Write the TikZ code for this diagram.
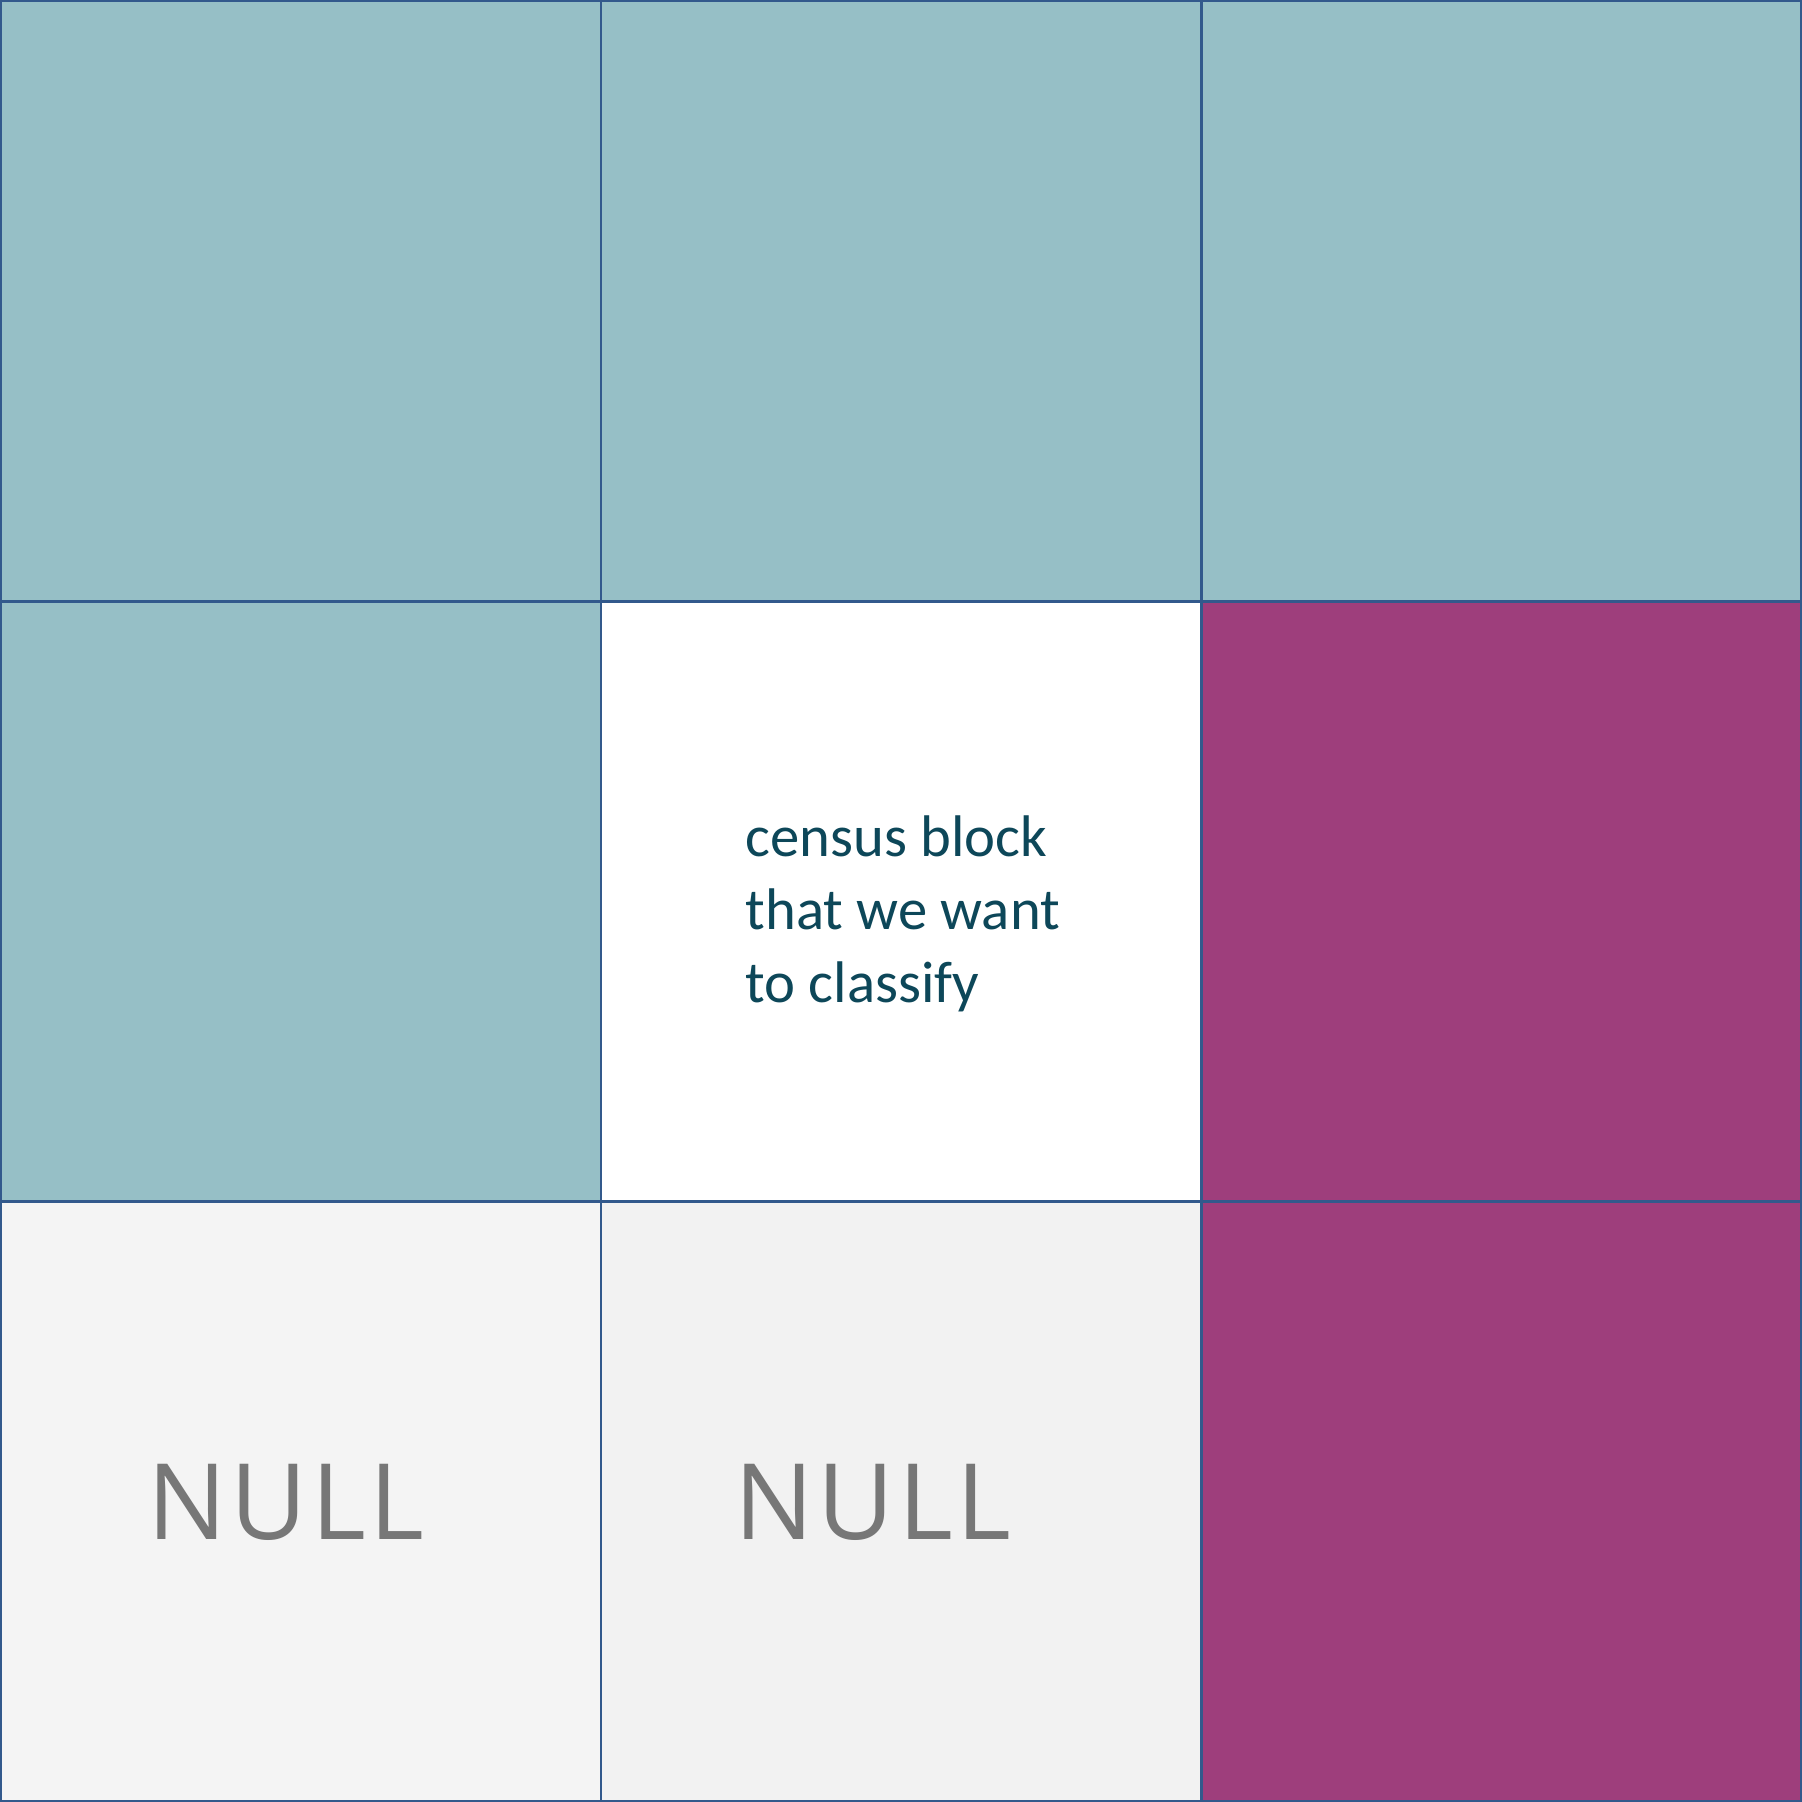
\documentclass[tikz,border=0pt]{standalone}
\usepackage{fontspec}
\setmainfont{Carlito}
\newfontfamily\emptycellfont[LetterSpace=3.5]{Open Sans}
\definecolor{gridline}{RGB}{50,89,140}
\definecolor{tealcell}{RGB}{150,191,198}
\definecolor{plumcell}{RGB}{158,62,124}
\definecolor{nullA}{RGB}{244,244,244}
\definecolor{nullB}{RGB}{242,242,242}
\definecolor{blocktext}{RGB}{13,71,89}
\definecolor{nulltext}{RGB}{119,119,119}
\begin{document}
\begin{tikzpicture}[x=0.1mm,y=-0.1mm,
  cell/.style={draw=gridline,line width=0.85pt},
  blockline/.style={anchor=base west,inner sep=0pt,text=blocktext,font=\fontsize{16.7}{20}\selectfont},
  nulllabel/.style={anchor=base west,inner sep=0pt,text=nulltext,font=\emptycellfont\fontsize{30}{36}\selectfont}]
\useasboundingbox (0,0) rectangle (1802,1802);
% grid of cells, row by row
\foreach \col/\row/\shade in {0/0/tealcell,1/0/tealcell,2/0/tealcell,
                              0/1/tealcell,1/1/white,2/1/plumcell,
                              0/2/nullA,1/2/nullB,2/2/plumcell}
  \filldraw[cell,fill=\shade] (1+600*\col,1+600*\row) rectangle ++(600,600);
% centre cell
\node[blockline] (line1) at (745,856) {census block};
\node[blockline] (line2) at (745,929) {that we want};
\node[blockline] (line3) at (745,1002) {to classify};
% empty neighbours
\node[nulllabel] (nullleft) at (147,1539) {NULL};
\node[nulllabel] (nullmid) at (734,1539) {NULL};
\end{tikzpicture}
\end{document}
